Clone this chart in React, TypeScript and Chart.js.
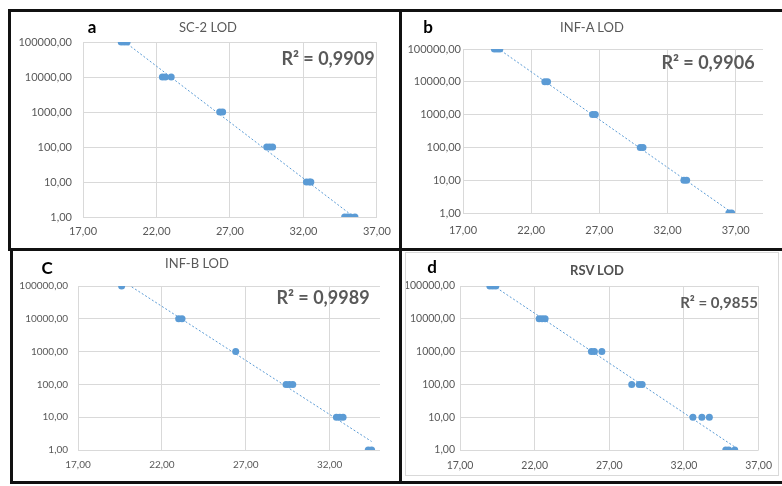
import React, { useEffect, useRef } from "react";
import { Chart, registerables } from "chart.js";

Chart.register(...registerables);

// ---------- data (Ct value vs copies) ----------
const sc2Ct = [19.6, 19.8, 20.0, 22.4, 22.6, 23.0, 26.3, 26.5, 29.5, 29.7, 29.9, 32.2, 32.4, 32.5, 34.8, 35.0, 35.2, 35.5];
const sc2Copies = [100000, 100000, 100000, 10000, 10000, 10000, 1000, 1000, 100, 100, 100, 10, 10, 10, 1, 1, 1, 1];

const infACt = [19.3, 19.5, 19.7, 23.0, 23.2, 26.5, 26.7, 30.0, 30.2, 33.2, 33.4, 36.5, 36.7];
const infACopies = [100000, 100000, 100000, 10000, 10000, 1000, 1000, 100, 100, 10, 10, 1, 1];

const infBCt = [19.6, 23.0, 23.2, 26.4, 29.4, 29.6, 29.8, 32.4, 32.6, 32.8, 34.3, 34.5];
const infBCopies = [100000, 10000, 10000, 1000, 100, 100, 100, 10, 10, 10, 1, 1];

const rsvCt = [19.0, 19.2, 19.4, 22.3, 22.5, 22.7, 25.8, 26.0, 26.5, 28.5, 29.0, 29.2, 32.6, 33.2, 33.7, 34.8, 35.0, 35.4];
const rsvCopies = [100000, 100000, 100000, 10000, 10000, 10000, 1000, 1000, 1000, 100, 100, 100, 10, 10, 10, 1, 1, 1];

const yTickValues = [1, 10, 100, 1000, 10000, 100000];
const xTickValues = [17, 22, 27, 32, 37];
const xTickValuesC = [17, 22, 27, 32];

const panelTitles = ["SC-2 LOD", "INF-A LOD", "INF-B LOD", "RSV LOD"];
const panelLetters = ["a", "b", "C", "d"];
const r2Labels = ["R² = 0,9909", "R² = 0,9906", "R² = 0,9989", "R² = 0,9855"];

const BLUE = "#5B9BD5";
const GRID = "#D9D9D9";
const TXT = "#595959";
const FONT = "Lato, 'Open Sans', sans-serif";

const fmt = (v: number) => Number(v).toFixed(2).replace(".", ",");

function trend(xs: number[], ys: number[]) {
  const ly = ys.map((v) => Math.log10(v));
  const n = xs.length;
  const mx = xs.reduce((a, b) => a + b, 0) / n;
  const my = ly.reduce((a, b) => a + b, 0) / n;
  let sxy = 0, sxx = 0;
  for (let i = 0; i < n; i++) {
    sxy += (xs[i] - mx) * (ly[i] - my);
    sxx += (xs[i] - mx) * (xs[i] - mx);
  }
  const b = sxy / sxx;
  const a = my - b * mx;
  const x0 = Math.min(...xs);
  const x1 = Math.max(...xs);
  return [
    { x: x0, y: Math.pow(10, a + b * x0) },
    { x: x1, y: Math.pow(10, a + b * x1) },
  ];
}

type Panel = {
  xs: number[]; ys: number[]; xMax: number; xTicks: number[];
  left: number; top: number; w: number; h: number;
  yAxisW: number; yPad: number; padTop: number; padRight: number;
  xAxisH: number; xPad: number; fontSize: number;
};

const panels: Panel[] = [
  { xs: sc2Ct, ys: sc2Copies, xMax: 37, xTicks: xTickValues, left: 11, top: 12, w: 388, h: 236, yAxisW: 72, yPad: 11, padTop: 30, padRight: 16, xAxisH: 31, xPad: 8, fontSize: 11 },
  { xs: infACt, ys: infACopies, xMax: 39, xTicks: xTickValues, left: 403, top: 12, w: 379, h: 236, yAxisW: 60, yPad: 2, padTop: 37, padRight: 19, xAxisH: 35, xPad: 11, fontSize: 11 },
  { xs: infBCt, ys: infBCopies, xMax: 35, xTicks: xTickValuesC, left: 13, top: 252, w: 386, h: 229, yAxisW: 65, yPad: 10, padTop: 34, padRight: 19, xAxisH: 31, xPad: 9, fontSize: 10 },
  { xs: rsvCt, ys: rsvCopies, xMax: 37, xTicks: xTickValues, left: 406, top: 253, w: 375, h: 221, yAxisW: 54, yPad: 5, padTop: 33, padRight: 14, xAxisH: 24, xPad: 9, fontSize: 10.5 },
];

const textItems = [
  { t: panelTitles[0], x: 208, y: 27, size: 13, weight: 400, color: TXT },
  { t: panelTitles[1], x: 592, y: 27, size: 13, weight: 400, color: TXT },
  { t: panelTitles[2], x: 197, y: 263, size: 13, weight: 400, color: TXT },
  { t: panelTitles[3], x: 597, y: 270, size: 13, weight: 700, color: "#505050" },
  { t: panelLetters[0], x: 92, y: 26, size: 17, weight: 700, color: "#000" },
  { t: panelLetters[1], x: 428, y: 26, size: 17, weight: 700, color: "#000" },
  { t: panelLetters[2], x: 47, y: 267, size: 17, weight: 700, color: "#000" },
  { t: panelLetters[3], x: 432, y: 266, size: 17, weight: 700, color: "#000" },
  { t: r2Labels[0], x: 328, y: 58, size: 18, weight: 700, color: TXT },
  { t: r2Labels[1], x: 708, y: 62, size: 18, weight: 700, color: TXT },
  { t: r2Labels[2], x: 323, y: 297, size: 18, weight: 700, color: TXT },
  { t: r2Labels[3], x: 719, y: 302, size: 15, weight: 700, color: TXT },
];

const borders = [
  { l: 8, t: 9, w: 774, h: 3 },
  { l: 8, t: 9, w: 3, h: 242 },
  { l: 10, t: 248, w: 3, h: 236 },
  { l: 8, t: 248, w: 774, h: 3 },
  { l: 399, t: 9, w: 3, h: 475 },
  { l: 10, t: 481, w: 772, h: 3 },
];

export default function App() {
  const refs = [useRef<HTMLCanvasElement>(null), useRef<HTMLCanvasElement>(null), useRef<HTMLCanvasElement>(null), useRef<HTMLCanvasElement>(null)];

  useEffect(() => {
    document.body.style.margin = "0";
    const charts: Chart[] = [];
    panels.forEach((p, i) => {
      const cv = refs[i].current;
      if (!cv) return;
      const pts = p.xs.map((x, k) => ({ x, y: p.ys[k] }));
      const font = { family: FONT, size: p.fontSize };
      const c = new Chart(cv, {
        type: "scatter",
        data: {
          datasets: [
            {
              data: trend(p.xs, p.ys),
              showLine: true,
              borderColor: BLUE,
              borderWidth: 1,
              borderDash: [2, 2],
              pointRadius: 0,
              order: 0,
            },
            {
              data: pts,
              backgroundColor: BLUE,
              borderColor: BLUE,
              borderWidth: 0,
              pointRadius: 3.5,
              order: 1,
            },
          ],
        },
        options: {
          responsive: false,
          animation: false,
          devicePixelRatio: 1,
          layout: { padding: { left: 0, top: p.padTop, right: p.padRight, bottom: 0 } },
          plugins: { legend: { display: false }, tooltip: { enabled: false }, title: { display: false } },
          scales: {
            x: {
              type: "linear",
              min: 17,
              max: p.xMax,
              afterBuildTicks: (s: any) => { s.ticks = p.xTicks.map((v) => ({ value: v })); },
              afterFit: (s: any) => { s.height = p.xAxisH; },
              grid: { color: GRID, lineWidth: 1, drawTicks: false },
              border: { display: false },
              ticks: { padding: p.xPad, color: TXT, font, maxRotation: 0, autoSkip: false, callback: (v: any) => fmt(v) },
            },
            y: {
              type: "logarithmic",
              min: 1,
              max: 100000,
              afterBuildTicks: (s: any) => { s.ticks = yTickValues.map((v) => ({ value: v })); },
              afterFit: (s: any) => { s.width = p.yAxisW; },
              grid: { color: GRID, lineWidth: 1, drawTicks: false },
              border: { display: false },
              ticks: { padding: p.yPad, color: TXT, font, autoSkip: false, callback: (v: any) => fmt(v) },
            },
          },
        },
      } as any);
      charts.push(c);
    });
    return () => charts.forEach((c) => c.destroy());
  }, []);

  return (
    <div style={{ position: "absolute", left: 0, top: 0, width: 782, height: 486, background: "#fff", overflow: "hidden", fontFamily: FONT }}>
      <div style={{ position: "absolute", left: 405, top: 252, width: 372, height: 222, border: "1px solid " + GRID }} />
      {panels.map((p, i) => (
        <canvas key={i} ref={refs[i]} width={p.w} height={p.h} style={{ position: "absolute", left: p.left, top: p.top, width: p.w, height: p.h }} />
      ))}
      {textItems.map((it, i) => (
        <div key={"t" + i} style={{ position: "absolute", left: it.x, top: it.y, transform: "translate(-50%, -50%)", whiteSpace: "nowrap", fontSize: it.size, fontWeight: it.weight, color: it.color, lineHeight: 1 }}>
          {it.t}
        </div>
      ))}
      {borders.map((b, i) => (
        <div key={"b" + i} style={{ position: "absolute", left: b.l, top: b.t, width: b.w, height: b.h, background: "#111" }} />
      ))}
    </div>
  );
}
